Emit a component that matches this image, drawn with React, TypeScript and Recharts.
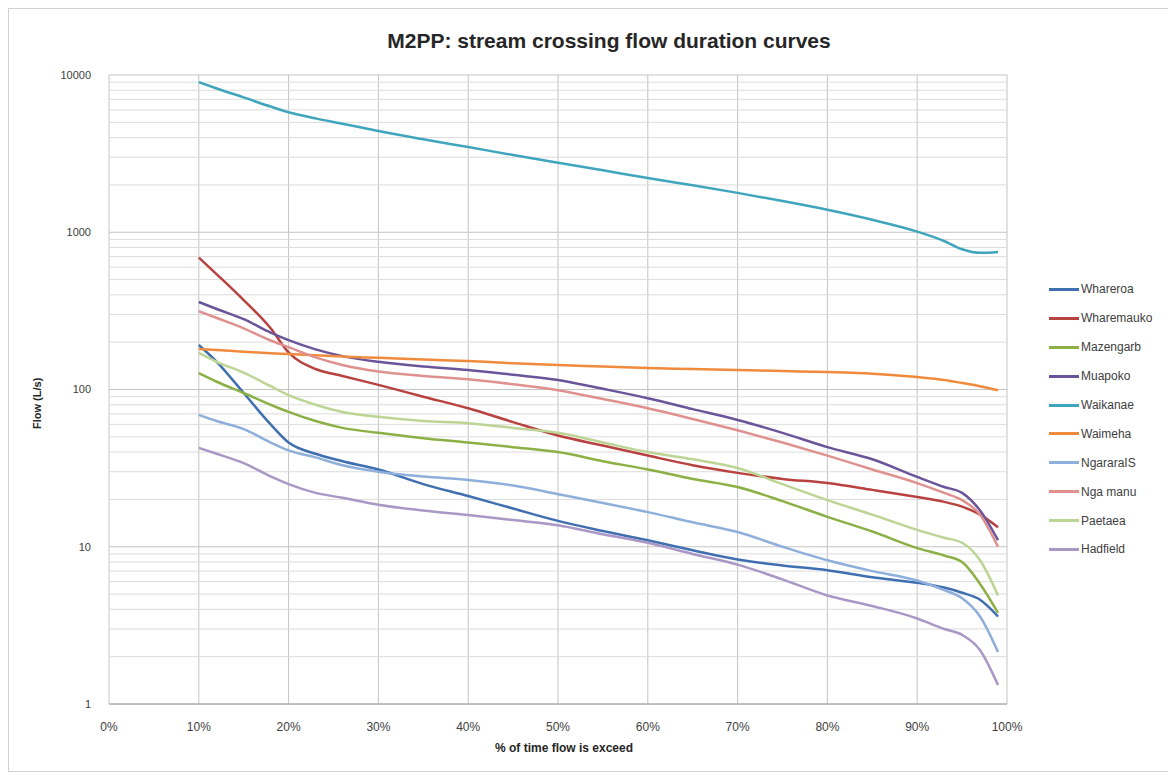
import React from "react";
import { LineChart, Line, XAxis, YAxis, CartesianGrid, ReferenceLine } from "recharts";

// % of time flow is exceeded
const pct = [10, 12, 15, 18, 20, 23, 26, 30, 35, 40, 45, 50, 55, 60, 65, 70, 75, 80, 85, 90, 93, 95, 97, 99];

// Flow (L/s) per stream
const whareroa = [192, 150, 95, 60, 46, 39, 35, 31, 25, 21, 17.5, 14.6, 12.6, 11, 9.5, 8.3, 7.6, 7.1, 6.4, 5.9, 5.5, 5.1, 4.6, 3.6];
const wharemauko = [690, 540, 370, 245, 172, 135, 122, 107, 90, 76, 62, 51, 44, 38, 33, 29.5, 27, 25.4, 23, 20.7, 19.3, 18, 16, 13.3];
const mazengarb = [127, 112, 95, 80, 72, 63, 57, 53, 49, 46, 43, 40, 35, 31, 27, 24, 19.5, 15.5, 12.5, 9.8, 8.8, 8, 5.8, 3.8];
const muapoko = [360, 325, 280, 230, 206, 180, 163, 150, 140, 133, 124, 115, 101, 88, 75, 64, 53, 43, 36, 27.8, 24, 22, 17, 11];
const waikanae = [9000, 8200, 7200, 6300, 5800, 5300, 4900, 4400, 3900, 3480, 3100, 2770, 2480, 2210, 1990, 1780, 1580, 1390, 1200, 1010, 880, 780, 740, 750];
const waimeha = [181, 178, 174, 170, 168, 165, 162, 159, 155, 152, 147, 143, 140, 137, 135, 133, 131, 129, 126, 120, 115, 110, 105, 99];
const ngararaIS = [69, 63, 56, 46, 41, 37, 33, 30, 28, 26.6, 24.5, 21.6, 19, 16.6, 14.3, 12.4, 10, 8.2, 7, 6.1, 5.3, 4.7, 3.6, 2.14];
const ngaManu = [315, 285, 245, 205, 186, 160, 143, 130, 122, 116, 108, 99, 87, 76, 65, 55, 46, 38, 31, 25.4, 22, 19.8, 16, 10];
const paetaea = [171, 150, 128, 105, 92, 80, 72, 67, 63, 61, 57, 53, 46, 40, 36, 31.7, 25, 19.8, 16, 12.8, 11.4, 10.6, 8.2, 4.9];
const hadfield = [42.5, 39, 34, 28, 25, 22, 20.5, 18.5, 17, 15.9, 14.8, 13.7, 12, 10.6, 9, 7.7, 6.2, 4.9, 4.2, 3.5, 3, 2.75, 2.2, 1.32];

const series = [
  { key: "Whareroa", values: whareroa, color: "#3f6fb0" },
  { key: "Wharemauko", values: wharemauko, color: "#b8423f" },
  { key: "Mazengarb", values: mazengarb, color: "#8cb045" },
  { key: "Muapoko", values: muapoko, color: "#6a559a" },
  { key: "Waikanae", values: waikanae, color: "#3fa5bd" },
  { key: "Waimeha", values: waimeha, color: "#f08a3c" },
  { key: "NgararaIS", values: ngararaIS, color: "#8eaedb" },
  { key: "Nga manu", values: ngaManu, color: "#de918f" },
  { key: "Paetaea", values: paetaea, color: "#bcd494" },
  { key: "Hadfield", values: hadfield, color: "#a998c6" },
];

const xTicks = [0, 10, 20, 30, 40, 50, 60, 70, 80, 90, 100];
const yTicks = [1, 10, 100, 1000, 10000];

const data = pct.map((p, i) => {
  const row: any = { pct: p };
  series.forEach((s) => (row[s.key] = s.values[i]));
  return row;
});

// minor log gridlines (2..9 in each decade)
const minorLines: number[] = [];
[1, 10, 100, 1000].forEach((d) => {
  for (let m = 2; m <= 9; m++) minorLines.push(d * m);
});

const font = "'Liberation Sans', Arial, sans-serif";

export default function App() {
  return (
    <div style={{ position: "relative", width: 1162, height: 762, border: "1px solid #d0d0d0", background: "#fff", fontFamily: font }}>
      <div style={{ position: "absolute", top: 20, left: 0, width: 1200, textAlign: "center", fontSize: 21, fontWeight: "bold", color: "#262626" }}>
        M2PP: stream crossing flow duration curves
      </div>
      <div style={{ position: "absolute", left: 22, top: 420, transform: "rotate(-90deg)", transformOrigin: "left top", fontSize: 11, fontWeight: "bold", color: "#262626", whiteSpace: "nowrap" }}>
        Flow (L/s)
      </div>
      <div style={{ position: "absolute", left: 0, width: 1110, top: 732, textAlign: "center", fontSize: 12, fontWeight: "bold", color: "#262626" }}>
        % of time flow is exceed
      </div>
      <div style={{ position: "absolute", left: 1040, top: 266, fontSize: 12, color: "#404040" }}>
        {series.map((s) => (
          <div key={s.key} style={{ display: "flex", alignItems: "center", height: 28.9 }}>
            <div style={{ width: 30, height: 3, background: s.color, marginRight: 2 }} />
            <span>{s.key}</span>
          </div>
        ))}
      </div>
      <LineChart width={1160} height={760} data={data} margin={{ top: 66, right: 162, bottom: 35, left: 40 }}>
        <CartesianGrid stroke="#c4c4c4" strokeWidth={1} />
        {minorLines.map((v) => (
          <ReferenceLine key={v} y={v} stroke="#dcdcdc" strokeWidth={1} ifOverflow="hidden" />
        ))}
        <XAxis
          dataKey="pct"
          type="number"
          domain={[0, 100]}
          ticks={xTicks}
          tickFormatter={(v) => `${v}%`}
          tick={{ fontSize: 12, fill: "#404040", fontFamily: font }}
          tickLine={false}
          axisLine={{ stroke: "#a0a0a0" }}
          tickMargin={12}
          height={30}
        />
        <YAxis
          scale="log"
          domain={[1, 10000]}
          ticks={yTicks}
          allowDataOverflow
          tick={{ fontSize: 11, fill: "#404040", fontFamily: font }}
          tickLine={false}
          axisLine={false}
          width={60}
          tickMargin={12}
        />
        {series.map((s) => (
          <Line
            key={s.key}
            dataKey={s.key}
            type="monotone"
            stroke={s.color}
            strokeWidth={2.5}
            dot={false}
            isAnimationActive={false}
          />
        ))}
      </LineChart>
    </div>
  );
}
